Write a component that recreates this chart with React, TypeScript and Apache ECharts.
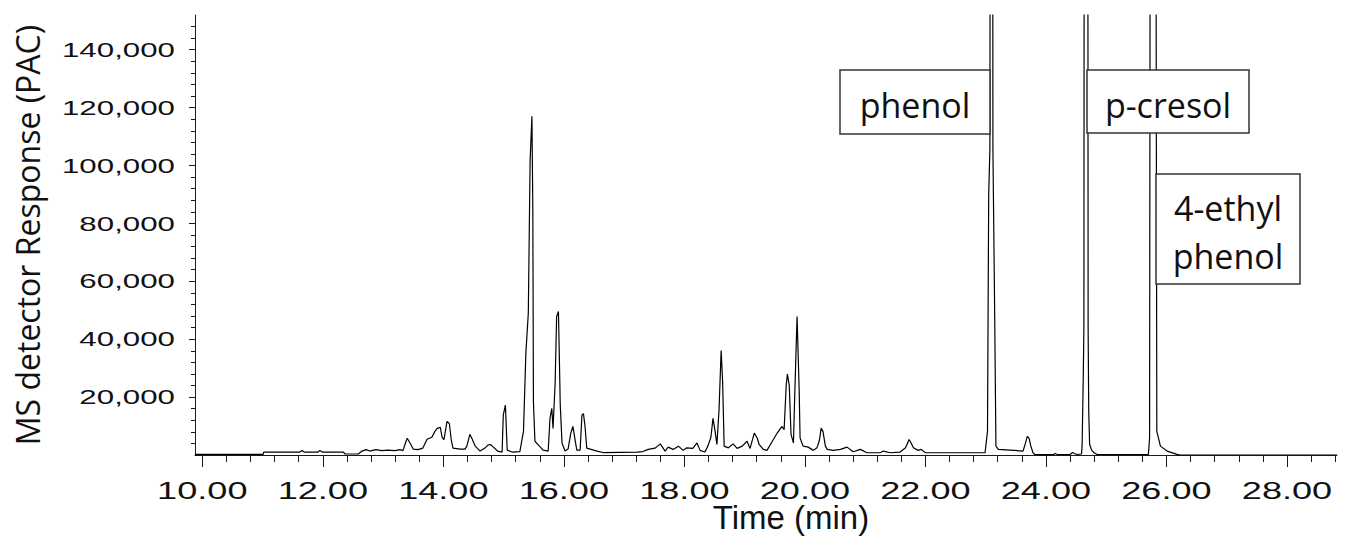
import React, { useEffect, useRef } from "react";
import * as echarts from "echarts";

// Retention time (min) and detector response (PAC)
const times = [
  9.88, 11.01, 11.02, 11.62, 11.655, 11.69, 11.92, 11.95, 11.99, 12.34, 12.37, 12.59, 12.65, 12.72, 12.78,
  12.88, 12.98, 13.08, 13.2, 13.28, 13.33, 13.37, 13.4, 13.45, 13.5, 13.58, 13.66, 13.73, 13.81, 13.86,
  13.9, 13.95, 13.98, 14.01, 14.06, 14.1, 14.13, 14.16, 14.28, 14.36, 14.39, 14.44, 14.48, 14.53, 14.61,
  14.69, 14.74, 14.78, 14.83, 14.9, 14.975, 14.995, 15.03, 15.06, 15.14, 15.27, 15.33, 15.37, 15.41, 15.44,
  15.47, 15.485, 15.495, 15.52, 15.58, 15.655, 15.74, 15.77, 15.8, 15.82, 15.855, 15.88, 15.91, 15.93, 15.94,
  15.97, 16.02, 16.07, 16.115, 16.15, 16.19, 16.215, 16.27, 16.3, 16.325, 16.35, 16.38, 16.55, 16.65, 17.215,
  17.31, 17.4, 17.515, 17.6, 17.68, 17.73, 17.815, 17.9, 17.98, 18.04, 18.14, 18.21, 18.26, 18.34, 18.39,
  18.44, 18.475, 18.51, 18.54, 18.575, 18.61, 18.635, 18.66, 18.73, 18.81, 18.875, 18.96, 19.04, 19.09, 19.16,
  19.21, 19.24, 19.31, 19.37, 19.46, 19.54, 19.62, 19.655, 19.69, 19.71, 19.74, 19.77, 19.81, 19.83, 19.87,
  19.905, 19.92, 19.97, 20.055, 20.14, 20.2, 20.24, 20.27, 20.3, 20.34, 20.37, 20.47, 20.59, 20.7, 20.8,
  20.92, 21.03, 21.25, 21.3, 21.42, 21.58, 21.67, 21.73, 21.765, 21.8, 21.88, 21.93, 22.0, 22.99, 23.03,
  23.05, 23.07, 23.085, 23.11, 23.12, 23.15, 23.17, 23.21, 23.62, 23.66, 23.69, 23.72, 23.75, 23.785, 23.82,
  24.12, 24.15, 24.2, 24.4, 24.44, 24.47, 24.52, 24.59, 24.6, 24.62, 24.63, 24.64, 24.69, 24.7, 24.71,
  24.725, 24.76, 24.8, 24.85, 25.7, 25.72, 25.74, 25.81, 25.84, 25.9, 26.01, 26.175, 26.23, 28.83,
];
const response = [
  200, 200, 1020, 1020, 1530, 1020, 1020, 1530, 1020, 1020, 340, 340, 1360, 1870, 1360,
  1870, 1530, 1700, 1530, 1870, 1530, 4080, 5780, 4080, 2040, 1870, 2380, 5440, 6120, 8160,
  9180, 9520, 6120, 5330, 11560, 10880, 5440, 2380, 2040, 2040, 3060, 7140, 5440, 3060, 1360,
  2380, 3400, 3640, 2720, 1360, 1020, 13840, 17240, 1700, 1020, 1190, 8160, 35370, 48970, 101690,
  116990, 85360, 18370, 4760, 3400, 1700, 1360, 12690, 16090, 9180, 24590, 47850, 49550, 28570, 17350,
  4080, 1360, 2040, 7580, 9860, 4760, 1700, 1700, 13840, 14280, 10200, 2380, 1360, 850, 1020,
  1190, 1940, 2380, 3840, 1360, 2720, 1940, 3060, 1600, 2480, 2280, 4180, 1600, 1020, 3060,
  6120, 12690, 8160, 3640, 15640, 36050, 25170, 3060, 2480, 3840, 2280, 3060, 4760, 2280, 7580,
  5780, 3640, 1940, 1600, 4760, 7580, 9860, 8740, 24150, 27990, 24150, 7140, 4180, 19490, 47850,
  22450, 5880, 3060, 2720, 1600, 2480, 5000, 9290, 8160, 3060, 1940, 1600, 1940, 2720, 1120,
  1940, 780, 780, 1360, 780, 1020, 2480, 5340, 4080, 2480, 1600, 1940, 780, 780, 8160,
  89790, 105770, 400000, 400000, 106110, 47270, 3060, 1940, 1360, 4080, 6460, 5780, 3060, 780, 100,
  100, 510, 100, 170, 850, 510, 170, 340, 3060, 27550, 44550, 400000, 400000, 44550, 14960,
  3640, 1600, 780, 170, 170, 5880, 400000, 400000, 8160, 3060, 1360, 240, 0, 0,
];

const xMajorTicks = [10, 12, 14, 16, 18, 20, 22, 24, 26, 28];
const xTickLabels = ["10.00", "12.00", "14.00", "16.00", "18.00", "20.00", "22.00", "24.00", "26.00", "28.00"];
const yMajorTicks = [20000, 40000, 60000, 80000, 100000, 120000, 140000];
const yTickLabels = ["20,000", "40,000", "60,000", "80,000", "100,000", "120,000", "140,000"];
const peakNames = ["phenol", "p-cresol", "4-ethyl\nphenol"];
const xTitle = "Time (min)";
const yTitle = "MS detector Response (PAC)";

const X_MIN = 9.879;
const X_MAX = 28.83;
const Y_MAX = 152000;

const xMinorTicks: number[] = [];
for (let i = 0; i <= 47; i++) xMinorTicks.push(Math.round((10 + i * 0.4) * 10) / 10);
const yMinorTicks: number[] = [];
for (let i = 1; i <= 37; i++) yMinorTicks.push(i * 4000);

export default function App() {
  const ref = useRef<HTMLDivElement>(null);

  useEffect(() => {
    const el = ref.current;
    if (!el) return;
    const chart = echarts.init(el, null, { renderer: "svg" });
    const axisColor = "#1a1a1a";
    const tickStyle = { color: axisColor, width: 1 };
    const data = times.map((t, i) => [t, response[i]]);

    chart.setOption({
      animation: false,
      backgroundColor: "#ffffff",
      grid: { left: 195, top: 15, right: 10, bottom: 75, containLabel: false },
      xAxis: [
        {
          type: "value",
          min: X_MIN,
          max: X_MAX,
          position: "bottom",
          axisLine: { show: true, onZero: false, lineStyle: { color: axisColor, width: 1 } },
          axisTick: { show: true, inside: false, length: 12, customValues: xMajorTicks, lineStyle: tickStyle },
          axisLabel: { show: false },
          splitLine: { show: false },
          name: xTitle,
          nameLocation: "middle",
          nameGap: 46,
          nameTextStyle: { fontFamily: "Liberation Sans", fontSize: 33, color: "#111", padding: [0, 0, 0, 50] },
        },
        {
          type: "value",
          min: X_MIN,
          max: X_MAX,
          position: "bottom",
          axisLine: { show: false, onZero: false },
          axisTick: { show: true, inside: false, length: 7, customValues: xMinorTicks, lineStyle: tickStyle },
          axisLabel: { show: false },
          splitLine: { show: false },
        },
      ],
      yAxis: [
        {
          type: "value",
          min: 0,
          max: Y_MAX,
          position: "left",
          axisLine: { show: true, onZero: false, lineStyle: { color: axisColor, width: 1 } },
          axisTick: { show: true, inside: false, length: 6, customValues: yMajorTicks, lineStyle: tickStyle },
          axisLabel: { show: false },
          splitLine: { show: false },
          name: yTitle,
          nameLocation: "middle",
          nameRotate: 90,
          nameGap: 152,
          nameTextStyle: { fontFamily: "Open Sans", fontSize: 32, color: "#111", padding: [0, 0, 0, 0] },
        },
        {
          type: "value",
          min: 0,
          max: Y_MAX,
          position: "left",
          axisLine: { show: false, onZero: false },
          axisTick: { show: true, inside: false, length: 4, customValues: yMinorTicks, lineStyle: tickStyle },
          axisLabel: { show: false },
          splitLine: { show: false },
        },
      ],
      series: [
        {
          type: "line",
          xAxisIndex: 0,
          yAxisIndex: 0,
          data,
          symbol: "none",
          showSymbol: false,
          clip: true,
          silent: true,
          z: 3,
          lineStyle: { color: "#000", width: 1.2 },
        },
      ],
    });

    const g: any[] = [];
    xMajorTicks.forEach((v, i) => {
      const px = chart.convertToPixel({ xAxisIndex: 0 }, v) as number;
      g.push({
        type: "text",
        x: px,
        y: 491,
        scaleX: 1.57,
        z: 50,
        style: {
          text: xTickLabels[i],
          fontFamily: "Liberation Sans",
          fontSize: 23,
          fill: "#111",
          textAlign: "center",
          textVerticalAlign: "middle",
        },
      });
    });
    yMajorTicks.forEach((v, i) => {
      const py = chart.convertToPixel({ yAxisIndex: 0 }, v) as number;
      g.push({
        type: "text",
        x: 175,
        y: py,
        scaleX: 1.49,
        z: 50,
        style: {
          text: yTickLabels[i],
          fontFamily: "Liberation Sans",
          fontSize: 21,
          fill: "#111",
          textAlign: "right",
          textVerticalAlign: "middle",
        },
      });
    });

    const boxes = [
      { x: 840, y: 70, w: 150, h: 64 },
      { x: 1087, y: 70, w: 162, h: 63 },
      { x: 1156, y: 174, w: 144, h: 110 },
    ];
    boxes.forEach((b, i) => {
      g.push({
        type: "rect",
        z: 60,
        shape: { x: b.x, y: b.y, width: b.w, height: b.h },
        style: { fill: "#ffffff", stroke: "#333333", lineWidth: 1.5 },
      });
      g.push({
        type: "text",
        z: 61,
        x: b.x + b.w / 2,
        y: b.y + b.h / 2 + 3,
        style: {
          text: peakNames[i],
          fontFamily: "Open Sans",
          fontSize: 34,
          lineHeight: 48,
          fill: "#111",
          textAlign: "center",
          textVerticalAlign: "middle",
        },
      });
    });
    chart.setOption({ graphic: { elements: g } });

    return () => {
      chart.dispose();
    };
  }, []);

  return (
    <div
      ref={ref}
      style={{ position: "fixed", left: 0, top: 0, width: 1347, height: 539, background: "#fff" }}
    />
  );
}
